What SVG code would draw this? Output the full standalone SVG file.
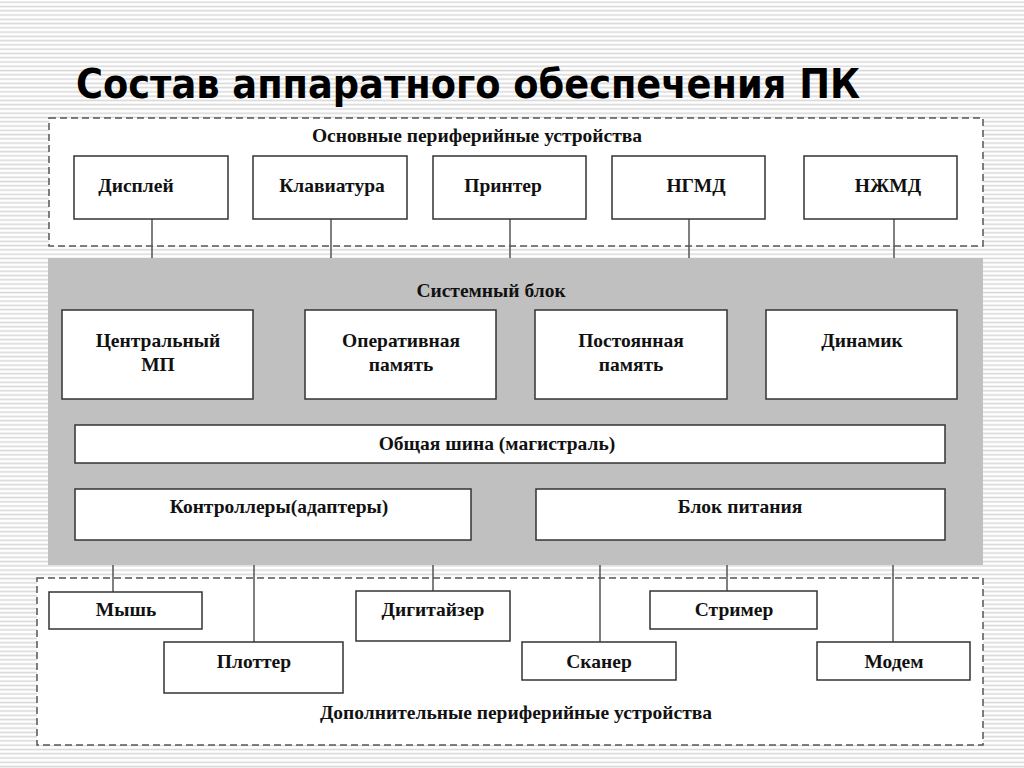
<svg xmlns="http://www.w3.org/2000/svg" width="1024" height="768" viewBox="0 0 1024 768">
<defs>
<pattern id="stripes" patternUnits="userSpaceOnUse" width="16" height="4.27">
<rect x="0" y="0" width="16" height="4.27" fill="#ffffff"/>
<rect x="0" y="1.4" width="16" height="1.6" fill="#d9d9d9"/>
</pattern>
</defs>
<style>
.box{fill:#ffffff;stroke:#333333;stroke-width:1.5}
.dash{fill:#ffffff;stroke:#555555;stroke-width:1.5;stroke-dasharray:7 4}
.lbl{font-family:"Liberation Serif","Times New Roman",serif;font-weight:bold;font-size:19.5px;fill:#111111;text-anchor:middle}
.conn line{stroke:#555555;stroke-width:1.5}
</style>
<rect x="0" y="0" width="1024" height="768" fill="url(#stripes)"/>
<text x="76" y="98" font-family="'DejaVu Sans',Verdana,sans-serif" font-weight="bold" font-size="40" textLength="784" lengthAdjust="spacingAndGlyphs" fill="#000000">Состав аппаратного обеспечения ПК</text>

<g id="group-main-peripherals">
<rect class="dash" x="49" y="118" width="934" height="128"/>
<text class="lbl" x="477" y="142">Основные периферийные устройства</text>
</g>

<g id="group-additional-peripherals">
<rect class="dash" x="37" y="578" width="946" height="167"/>
<text class="lbl" x="516" y="719">Дополнительные периферийные устройства</text>
</g>

<g class="conn" id="connectors">
<line x1="152" y1="219" x2="152" y2="258"/>
<line x1="331" y1="219" x2="331" y2="258"/>
<line x1="510" y1="219" x2="510" y2="258"/>
<line x1="689" y1="219" x2="689" y2="258"/>
<line x1="894" y1="219" x2="894" y2="258"/>
<line x1="113" y1="565" x2="113" y2="592"/>
<line x1="254" y1="565" x2="254" y2="642"/>
<line x1="433" y1="565" x2="433" y2="591"/>
<line x1="600" y1="565" x2="600" y2="642"/>
<line x1="727" y1="565" x2="727" y2="591"/>
<line x1="893" y1="565" x2="893" y2="642"/>
</g>

<g id="system-block">
<rect x="48" y="258" width="935" height="307" fill="#c0c0c0"/>
<text class="lbl" x="491" y="297">Системный блок</text>
</g>

<g id="display"><rect class="box" x="74" y="156" width="154" height="63"/><text class="lbl" x="136" y="192">Дисплей</text></g>
<g id="keyboard"><rect class="box" x="253" y="156" width="154" height="63"/><text class="lbl" x="332" y="192">Клавиатура</text></g>
<g id="printer"><rect class="box" x="433" y="156" width="153" height="63"/><text class="lbl" x="503" y="192">Принтер</text></g>
<g id="fdd"><rect class="box" x="612" y="156" width="153" height="63"/><text class="lbl" x="696" y="192">НГМД</text></g>
<g id="hdd"><rect class="box" x="804" y="156" width="153" height="63"/><text class="lbl" x="888" y="192">НЖМД</text></g>

<g id="cpu"><rect class="box" x="62" y="310" width="191" height="89"/><text class="lbl" x="158" y="347">Центральный</text><text class="lbl" x="158" y="371">МП</text></g>
<g id="ram"><rect class="box" x="305" y="310" width="191" height="89"/><text class="lbl" x="401" y="347">Оперативная</text><text class="lbl" x="401" y="371">память</text></g>
<g id="rom"><rect class="box" x="535" y="310" width="192" height="89"/><text class="lbl" x="631" y="347">Постоянная</text><text class="lbl" x="631" y="371">память</text></g>
<g id="speaker"><rect class="box" x="766" y="310" width="191" height="89"/><text class="lbl" x="862" y="347">Динамик</text></g>

<g id="bus"><rect class="box" x="75" y="425" width="870" height="38"/><text class="lbl" x="497" y="450">Общая шина (магистраль)</text></g>
<g id="controllers"><rect class="box" x="75" y="489" width="396" height="51"/><text class="lbl" x="279" y="513">Контроллеры(адаптеры)</text></g>
<g id="psu"><rect class="box" x="536" y="489" width="409" height="51"/><text class="lbl" x="740" y="513">Блок питания</text></g>

<g id="mouse"><rect class="box" x="49" y="592" width="153" height="37"/><text class="lbl" x="126" y="616">Мышь</text></g>
<g id="plotter"><rect class="box" x="164" y="642" width="179" height="51"/><text class="lbl" x="254" y="668">Плоттер</text></g>
<g id="digitizer"><rect class="box" x="356" y="591" width="154" height="50"/><text class="lbl" x="433" y="616">Дигитайзер</text></g>
<g id="scanner"><rect class="box" x="522" y="642" width="154" height="38"/><text class="lbl" x="599" y="668">Сканер</text></g>
<g id="streamer"><rect class="box" x="650" y="591" width="167" height="38"/><text class="lbl" x="734" y="616">Стример</text></g>
<g id="modem"><rect class="box" x="817" y="642" width="153" height="38"/><text class="lbl" x="894" y="668">Модем</text></g>
</svg>
